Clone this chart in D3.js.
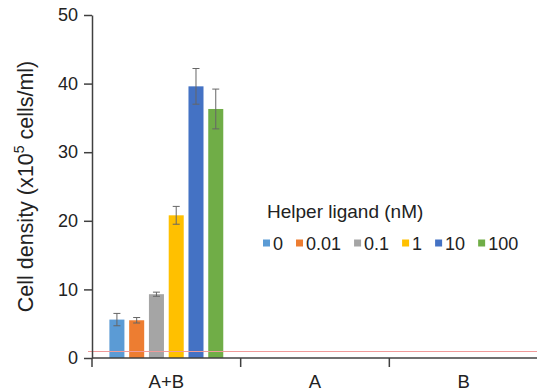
<!DOCTYPE html>
<html>
<head>
<meta charset="utf-8">
<script src="https://cdn.jsdelivr.net/npm/d3@7"></script>
<style>
  body { margin: 0; background: #fff; }
  svg { display: block; font-family: 'Liberation Sans', Arial, sans-serif; }
</style>
</head>
<body>
<div id="chart"></div>
<script>
// values
const categories = ['A+B', 'A', 'B']
const concentrations = ['0', '0.01', '0.1', '1', '10', '100']
const colors = ['#5b9bd5', '#ed7d31', '#a5a5a5', '#ffc000', '#4472c4', '#70ad47']
const meansAB = [5.6, 5.5, 9.3, 20.8, 39.6, 36.3]
const errorsAB = [0.9, 0.4, 0.3, 1.3, 2.6, 2.9]
const meansA = [0, 0, 0, 0, 0, 0]
const meansB = [0, 0, 0, 0, 0, 0]
const yTicks = [0, 10, 20, 30, 40, 50]
const threshold = 0.95

const width = 537
const height = 391
const margin = { top: 15, right: 0, bottom: 33, left: 92 }

const rows = [
  { cat: 'A+B', means: meansAB, errors: errorsAB },
  { cat: 'A', means: meansA, errors: meansA },
  { cat: 'B', means: meansB, errors: meansB }
]

const svg = d3.select('#chart')
  .append('svg')
    .attr('width', width)
    .attr('height', height)

const x = d3.scaleBand()
  .domain(categories)
  .range([margin.left, width - margin.right + 1])

const xInner = d3.scaleBand()
  .domain(concentrations)
  .range([0, x.bandwidth()])
  .paddingInner(0.24)
  .paddingOuter(0.88)

const y = d3.scaleLinear()
  .domain([0, 50])
  .range([height - margin.bottom, margin.top])

const color = d3.scaleOrdinal(concentrations, colors)

// bars
const groups = svg.append('g')
  .selectAll('g')
  .data(rows)
  .join('g')
    .attr('transform', d => `translate(${x(d.cat)},0)`)

groups.selectAll('rect')
  .data(d => d.means.map((v, i) => ({ key: concentrations[i], v, e: d.errors[i] })))
  .join('rect')
    .attr('x', d => xInner(d.key))
    .attr('y', d => y(d.v))
    .attr('width', xInner.bandwidth())
    .attr('height', d => y(0) - y(d.v))
    .attr('fill', d => color(d.key))

// error bars
const err = groups.selectAll('g.err')
  .data(d => d.means.map((v, i) => ({ key: concentrations[i], v, e: d.errors[i] })).filter(d => d.e > 0))
  .join('g')
    .attr('class', 'err')
    .attr('stroke', '#666')
    .attr('stroke-width', 1)

err.append('line')
  .attr('x1', d => xInner(d.key) + xInner.bandwidth() / 2)
  .attr('x2', d => xInner(d.key) + xInner.bandwidth() / 2)
  .attr('y1', d => y(d.v + d.e))
  .attr('y2', d => y(d.v - d.e))

err.selectAll('line.cap')
  .data(d => [d.v + d.e, d.v - d.e].map(t => ({ key: d.key, t })))
  .join('line')
    .attr('class', 'cap')
    .attr('x1', d => xInner(d.key) + xInner.bandwidth() / 2 - 3.5)
    .attr('x2', d => xInner(d.key) + xInner.bandwidth() / 2 + 3.5)
    .attr('y1', d => y(d.t))
    .attr('y2', d => y(d.t))

// threshold line
const ty = Math.round(y(threshold)) + 0.5
svg.append('line')
  .attr('x1', margin.left - 4)
  .attr('x2', width)
  .attr('y1', ty)
  .attr('y2', ty)
  .attr('stroke', '#f09a9a')
  .attr('stroke-width', 1)

// y axis
const yAxis = svg.append('g')
  .attr('transform', `translate(${margin.left},0)`)
  .call(d3.axisLeft(y).tickValues(yTicks).tickSize(8).tickPadding(6).tickSizeOuter(0))
yAxis.select('.domain').attr('stroke', '#404040').attr('stroke-width', 1.5)
yAxis.selectAll('.tick line').attr('stroke', '#404040').attr('stroke-width', 1.5)
yAxis.selectAll('.tick text')
  .attr('font-size', 18)
  .attr('fill', '#222')
  .attr('font-family', "'Liberation Sans', Arial, sans-serif")

// x axis: ticks at category borders
const xAxisG = svg.append('g')
  .attr('transform', `translate(0,${y(0)})`)
xAxisG.append('line')
  .attr('x1', margin.left)
  .attr('x2', width)
  .attr('stroke', '#404040')
  .attr('stroke-width', 1.5)
xAxisG.selectAll('line.tk')
  .data(categories)
  .join('line')
    .attr('class', 'tk')
    .attr('x1', d => x(d))
    .attr('x2', d => x(d))
    .attr('y1', 0)
    .attr('y2', 9)
    .attr('stroke', '#404040')
    .attr('stroke-width', 1.5)
xAxisG.selectAll('text')
  .data(categories)
  .join('text')
    .attr('x', d => x(d) + x.bandwidth() / 2)
    .attr('y', 30)
    .attr('text-anchor', 'middle')
    .attr('font-size', 18.5)
    .attr('fill', '#222')
    .text(d => d)

// y title
const title = svg.append('text')
  .attr('transform', `translate(33,${(y(0) + y(50)) / 2}) rotate(-90)`)
  .attr('text-anchor', 'middle')
  .attr('font-size', 21.5)
  .attr('fill', '#222')
title.append('tspan').text('Cell density (x10')
title.append('tspan').attr('font-size', 14).attr('dy', -9).text('5')
title.append('tspan').attr('dy', 9).text(' cells/ml)')

// legend
const legend = svg.append('g')
legend.append('text')
  .attr('x', 267)
  .attr('y', 218)
  .attr('font-size', 19)
  .attr('fill', '#222')
  .text('Helper ligand (nM)')

let lx = 263
concentrations.forEach(c => {
  legend.append('rect')
    .attr('x', lx)
    .attr('y', 239.5)
    .attr('width', 7)
    .attr('height', 7)
    .attr('fill', color(c))
  const t = legend.append('text')
    .attr('x', lx + 10)
    .attr('y', 249.5)
    .attr('font-size', 18)
    .attr('fill', '#222')
    .text(c)
  lx += 10 + t.node().getComputedTextLength() + 13
})
</script>
</body>
</html>
